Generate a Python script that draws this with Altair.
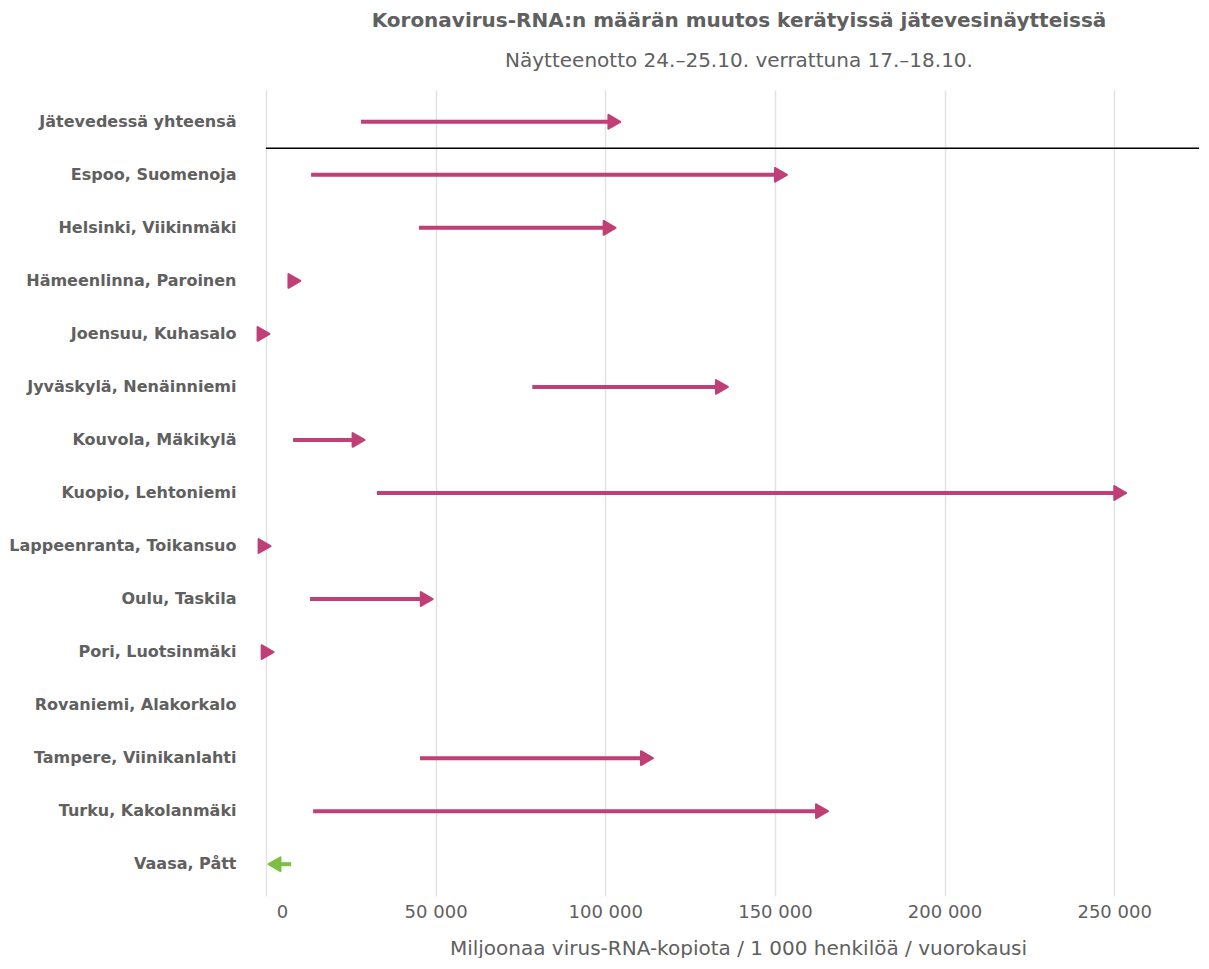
import altair as alt
import pandas as pd

stations = [
    "Jätevedessä yhteensä",
    "Espoo, Suomenoja",
    "Helsinki, Viikinmäki",
    "Hämeenlinna, Paroinen",
    "Joensuu, Kuhasalo",
    "Jyväskylä, Nenäinniemi",
    "Kouvola, Mäkikylä",
    "Kuopio, Lehtoniemi",
    "Lappeenranta, Toikansuo",
    "Oulu, Taskila",
    "Pori, Luotsinmäki",
    "Rovaniemi, Alakorkalo",
    "Tampere, Viinikanlahti",
    "Turku, Kakolanmäki",
    "Vaasa, Pått",
]
# 17.–18.10. (start) and 24.–25.10. (end)
start_vals = [28000, 13300, 45100, 7100, 300, 78500, 8000, 32700, 400, 13000, 800, None, 45400, 13900, 7400]
end_vals = [104600, 153700, 103200, 10300, 1200, 136300, 29200, 253700, 1500, 49300, 2400, None, 114200, 165800, 600]

tick_values = [0, 50000, 100000, 150000, 200000, 250000]
x_domain = [-5000, 275000]

UP = "#BF3F76"
DOWN = "#7CBF42"
TXT = "#606060"
FONT = "DejaVu Sans"

df = pd.DataFrame({"station": stations, "start": start_vals, "end": end_vals}).dropna()
df["suunta"] = ["nousu" if e >= s else "lasku" for s, e in zip(df["start"], df["end"])]

color = alt.Color("suunta:N", scale=alt.Scale(domain=["nousu", "lasku"], range=[UP, DOWN]), legend=None)

y_enc = alt.Y(
    "station:N",
    sort=stations,
    scale=alt.Scale(domain=stations, paddingInner=0, paddingOuter=0.1),
    axis=alt.Axis(
        title=None, domain=False, ticks=False, grid=False,
        labelFont=FONT, labelFontSize=16, labelFontWeight="bold",
        labelColor=TXT, labelPadding=13, labelLimit=400,
    ),
)

x_scale = alt.Scale(domain=x_domain, nice=False, zero=False)
x_axis = alt.Axis(
    values=tick_values,
    title="Miljoonaa virus-RNA-kopiota / 1 000 henkilöä / vuorokausi",
    titleFont=FONT, titleFontSize=20, titleFontWeight="normal", titleColor=TXT,
    titlePadding=17, titleX=489, titleAlign="center",
    labelFont=FONT, labelFontSize=18, labelColor=TXT, labelPadding=7,
    labelExpr="datum.value == 0 ? '0' : format(datum.value / 1000, 'd') + ' 000'",
    labelOffset={"condition": {"test": "datum.value == 0", "value": 16}, "value": 0},
    domain=False, ticks=False, grid=True, gridColor="#e2e2e2", gridWidth=1.5,
)

base = alt.Chart(df)

up_df = base.transform_filter("datum.suunta == 'nousu'")
down_df = base.transform_filter("datum.suunta == 'lasku'")

shaft_up = up_df.mark_rule(strokeWidth=4, x2Offset=-7).encode(
    x=alt.X("start:Q", scale=x_scale, axis=x_axis), x2="end:Q", y=y_enc, color=color
)
shaft_down = down_df.mark_rule(strokeWidth=4, x2Offset=7).encode(
    x=alt.X("start:Q", scale=x_scale), x2="end:Q", y=y_enc, color=color
)
head_style = dict(filled=True, size=190, opacity=1, strokeWidth=2, strokeJoin="round")
head_up = up_df.mark_point(shape="triangle-right", xOffset=-6.5, **head_style).encode(
    x=alt.X("end:Q", scale=x_scale), y=y_enc, color=color, stroke=color
)
head_down = down_df.mark_point(shape="triangle-left", xOffset=6.5, **head_style).encode(
    x=alt.X("end:Q", scale=x_scale), y=y_enc, color=color, stroke=color
)

sep_df = pd.DataFrame({"station": [stations[0]], "x0": [0], "x1": [x_domain[1]]})
separator = alt.Chart(sep_df).mark_rule(color="black", strokeWidth=1.5).encode(
    x=alt.X("x0:Q", scale=x_scale),
    x2="x1:Q",
    y=alt.Y("station:N", sort=stations, bandPosition=1),
)

chart = (
    alt.layer(shaft_up, shaft_down, head_up, head_down, separator)
    .properties(
        width=950,
        height=806,
        padding={"top": 3, "left": 0, "right": 0, "bottom": 0},
        background="white",
        title=alt.TitleParams(
            text="Koronavirus-RNA:n määrän muutos kerätyissä jätevesinäytteissä",
            subtitle="Näytteenotto 24.–25.10. verrattuna 17.–18.10.",
            font=FONT, fontSize=20, fontWeight="bold", color=TXT,
            subtitleFont=FONT, subtitleFontSize=20, subtitleColor=TXT,
            subtitlePadding=20, offset=19, anchor="middle", frame="group", dx=15,
        ),
    )
    .configure_view(strokeWidth=0, stroke="transparent")
)

chart.save("out.html", embed_options={"renderer": "svg", "actions": False})
